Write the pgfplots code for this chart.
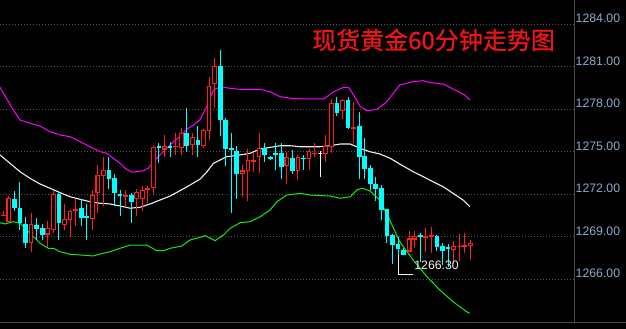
\documentclass[border=0pt]{standalone}
\usepackage{pgfplots}
\usepackage{pgfplotstable}
\pgfplotsset{compat=1.18}
\usepackage{fontspec}
\setmainfont{Liberation Sans}
\newfontfamily\cjk[FakeBold=0.8]{Noto Sans CJK SC}
\definecolor{cred}{RGB}{255,30,30}
\definecolor{ccyan}{RGB}{0,255,255}
\definecolor{cmag}{RGB}{255,0,255}
\definecolor{cgreen}{RGB}{20,235,20}
\definecolor{cwhite}{RGB}{240,240,240}
\definecolor{lblblue}{RGB}{140,170,210}
\definecolor{axgray}{RGB}{75,75,95}
\definecolor{gridgray}{RGB}{85,85,85}
\definecolor{titlered}{RGB}{240,20,20}

\pgfplotstableread{
i O H L C
0 1270.50 1270.82 1270.45 1270.52
1 1270.10 1271.90 1270.05 1271.70
2 1271.60 1272.20 1270.80 1271.10
3 1271.00 1272.90 1269.50 1270.00
4 1269.90 1270.40 1268.20 1268.60
5 1268.60 1270.70 1267.90 1269.90
6 1269.80 1270.30 1268.80 1269.60
7 1269.60 1269.90 1268.80 1269.20
8 1269.20 1270.10 1268.30 1269.60
9 1269.50 1272.20 1269.30 1272.00
10 1272.00 1272.10 1268.80 1270.00
11 1269.90 1271.30 1269.50 1270.20
12 1270.20 1270.90 1269.00 1270.80
13 1270.85 1271.70 1269.80 1270.90
14 1271.00 1271.70 1269.80 1270.40
15 1270.45 1271.30 1268.80 1270.40
16 1270.30 1272.30 1269.50 1271.90
17 1272.10 1274.10 1270.70 1273.30
18 1273.30 1274.60 1271.20 1273.70
19 1273.70 1274.60 1272.40 1273.15
20 1273.10 1273.40 1271.20 1272.10
21 1272.00 1272.30 1270.50 1271.90
22 1271.85 1272.30 1271.10 1271.90
23 1271.90 1272.10 1270.00 1271.50
24 1271.70 1272.40 1270.50 1272.10
25 1271.70 1272.60 1270.80 1272.30
26 1272.35 1272.60 1271.40 1272.40
27 1272.50 1275.50 1272.00 1275.30
28 1275.35 1275.60 1274.20 1275.30
29 1275.20 1276.20 1274.60 1275.40
30 1275.35 1275.70 1274.60 1275.30
31 1275.35 1276.30 1274.80 1275.40
32 1275.30 1276.70 1274.80 1276.30
33 1276.30 1278.10 1275.00 1275.45
34 1275.50 1276.30 1274.80 1276.00
35 1275.80 1276.80 1274.60 1275.50
36 1275.45 1276.60 1275.30 1276.50
37 1276.50 1280.30 1275.80 1279.60
38 1279.80 1281.60 1278.10 1281.00
39 1281.00 1282.20 1276.10 1277.30
40 1277.20 1277.40 1274.00 1275.25
41 1275.25 1276.30 1270.70 1275.20
42 1275.05 1275.40 1271.70 1273.50
43 1273.50 1274.10 1271.80 1273.65
44 1273.70 1275.20 1271.55 1274.40
45 1274.35 1275.00 1273.60 1274.40
46 1274.65 1276.30 1273.50 1275.25
47 1275.20 1275.60 1274.30 1274.80
48 1274.60 1274.70 1274.40 1274.50
49 1274.85 1275.60 1273.70 1274.80
50 1274.85 1275.60 1273.10 1274.00
51 1274.05 1275.00 1272.70 1274.60
52 1274.50 1275.10 1273.40 1273.70
53 1273.70 1274.80 1273.00 1274.60
54 1274.55 1274.80 1273.70 1274.50
55 1274.50 1275.20 1273.70 1275.00
56 1274.85 1275.60 1274.60 1274.90
57 1274.90 1275.05 1273.20 1274.90
58 1274.90 1276.20 1274.30 1275.35
59 1275.35 1278.70 1274.90 1278.40
60 1278.40 1278.90 1277.50 1277.75
61 1277.90 1278.70 1277.30 1278.60
62 1278.60 1278.90 1276.60 1276.70
63 1276.65 1278.50 1275.60 1276.70
64 1276.80 1277.80 1273.10 1274.65
65 1274.70 1276.00 1273.10 1273.85
66 1273.85 1274.10 1272.30 1272.80
67 1272.70 1273.25 1271.50 1272.45
68 1272.40 1272.65 1270.20 1270.90
69 1270.95 1271.00 1268.60 1269.10
70 1269.10 1269.20 1267.10 1268.45
71 1268.45 1269.00 1267.70 1268.20
72 1268.00 1268.20 1267.70 1267.75
73 1268.00 1269.40 1267.90 1268.85
74 1268.85 1269.40 1268.20 1269.00
75 1269.10 1269.25 1267.20 1269.00
76 1268.95 1269.60 1267.90 1269.00
77 1269.05 1269.70 1267.85 1269.10
78 1269.05 1269.10 1268.00 1268.35
79 1268.35 1268.60 1267.00 1268.05
80 1268.25 1268.50 1266.90 1268.15
81 1268.10 1268.70 1267.10 1268.35
82 1268.30 1269.20 1267.30 1268.35
83 1268.30 1269.30 1267.85 1268.40
84 1268.40 1268.80 1267.40 1268.50
}\candles

\pgfplotstableread{
x y
-0.594 1279.55
1.80 1277.95
3.00 1277.25
4.80 1277.01
6.60 1276.82
8.40 1276.42
10.20 1276.19
12.00 1276.07
13.80 1275.72
15.60 1275.36
17.40 1275.01
18.60 1274.90
19.80 1274.54
21.00 1274.19
21.90 1273.84
23.10 1273.56
24.00 1273.60
25.20 1273.67
26.10 1273.84
27.00 1274.30
28.20 1274.78
29.40 1275.25
30.60 1275.72
31.80 1276.07
33.00 1276.59
34.20 1276.89
35.40 1277.28
36.60 1278.19
37.80 1279.36
39.00 1279.60
40.80 1279.48
42.60 1279.41
46.20 1279.41
48.00 1279.24
49.80 1278.89
52.20 1278.75
57.60 1278.73
58.20 1278.89
59.40 1279.24
61.20 1279.55
62.10 1279.55
63.00 1279.01
64.20 1278.19
65.40 1277.90
67.20 1278.00
69.00 1278.54
71.30 1279.72
73.70 1279.95
75.50 1280.02
76.70 1279.88
79.10 1279.79
81.50 1279.31
83.00 1279.01
83.90 1278.66
}\bandup

\pgfplotstableread{
x y
-0.594 1274.78
1.20 1274.19
3.00 1273.60
4.80 1273.13
6.60 1272.73
8.40 1272.43
10.20 1272.12
12.00 1271.83
13.80 1271.65
15.60 1271.48
17.40 1271.37
19.20 1271.32
21.00 1271.18
22.80 1271.02
24.60 1271.09
26.40 1271.32
28.20 1271.60
30.00 1271.88
31.80 1272.26
33.60 1272.66
35.40 1273.08
36.60 1273.58
37.80 1274.19
39.00 1274.42
40.20 1274.66
42.60 1274.78
44.40 1274.90
46.20 1275.20
49.80 1275.43
51.60 1275.43
53.40 1275.36
56.90 1275.36
58.80 1275.43
60.60 1275.55
62.40 1275.55
64.20 1275.25
65.90 1275.01
67.70 1274.85
69.60 1274.54
71.30 1274.14
73.70 1273.60
75.50 1273.25
77.30 1272.89
79.10 1272.54
80.90 1272.07
82.70 1271.60
83.90 1271.13
}\bandmid

\pgfplotstableread{
x y
-0.594 1270.00
0.30 1269.91
1.80 1270.07
3.00 1269.96
4.80 1269.25
6.60 1268.55
8.10 1268.19
9.00 1268.19
10.20 1267.95
12.00 1267.77
13.80 1267.72
16.20 1267.65
17.40 1267.79
19.20 1267.95
21.00 1268.19
22.80 1268.42
25.80 1268.42
27.60 1268.02
28.80 1268.02
30.00 1268.19
32.10 1268.35
33.60 1268.78
35.40 1268.97
36.30 1269.08
38.10 1268.73
39.60 1269.13
40.80 1269.60
42.60 1270.00
44.40 1270.07
46.20 1270.42
48.00 1270.90
49.20 1271.48
51.00 1271.95
53.40 1272.07
55.20 1271.95
58.80 1271.88
60.60 1271.72
62.40 1271.83
63.60 1272.31
64.50 1272.43
65.90 1272.26
67.70 1271.60
69.50 1270.19
71.30 1268.66
73.70 1267.37
76.20 1266.19
78.50 1265.25
80.90 1264.42
83.30 1263.72
83.90 1263.61
}\bandlow

\begin{document}
\begin{tikzpicture}
\fill[black] (0,0) rectangle (626pt,329pt);
\draw[axgray, line width=1pt] (0,6.5pt) -- (626pt,6.5pt);
\begin{axis}[
  at={(0pt,7pt)}, anchor=south west,
  scale only axis, width=574.3pt, height=322pt,
  xmin=-0.594, xmax=102.70, ymin=1262.99, ymax=1285.715,
  axis x line=none,
  axis y line*=right,
  y axis line style={-, draw=axgray, line width=1pt},
  xtick=\empty,
  ytick={1266,1269,1272,1275,1278,1281,1284},
  yticklabels={1266.00,1269.00,1272.00,1275.00,1278.00,1281.00,1284.00},
  major tick length=0pt,
  yticklabel style={anchor=base west, inner sep=0pt, xshift=1.2pt, yshift=1.8pt, text=lblblue, font=\fontsize{12.3}{14}\selectfont},
  ymajorgrids,
  grid style={gridgray, line width=0.8pt, dash pattern=on 1pt off 2pt},
  clip=true,
]
\addplot[cmag, line width=1pt] table[x=x,y=y] {\bandup};
\addplot[cwhite, line width=1.1pt] table[x=x,y=y] {\bandmid};
\addplot[cgreen, line width=1pt] table[x=x,y=y] {\bandlow};

\pgfplotstablegetrowsof{\candles}
\pgfmathtruncatemacro{\nrows}{\pgfplotsretval-1}
\pgfplotsforeachungrouped \k in {0,...,\nrows}{%
  \pgfplotstablegetelem{\k}{i}\of\candles \let\ci\pgfplotsretval
  \pgfplotstablegetelem{\k}{O}\of\candles \let\co\pgfplotsretval
  \pgfplotstablegetelem{\k}{H}\of\candles \let\ch\pgfplotsretval
  \pgfplotstablegetelem{\k}{L}\of\candles \let\cl\pgfplotsretval
  \pgfplotstablegetelem{\k}{C}\of\candles \let\cc\pgfplotsretval
  \pgfmathsetmacro{\xl}{\ci-0.33}%
  \pgfmathsetmacro{\xr}{\ci+0.33}%
  \ifdim\cc pt>\co pt \def\ccol{cred}\def\cfill{black}\else
    \ifdim\cc pt<\co pt \def\ccol{ccyan}\def\cfill{ccyan}\else
      \def\ccol{cwhite}\def\cfill{cwhite}\fi\fi
  \edef\temp{\noexpand\addplot[draw=\ccol, line width=1pt] coordinates {(\ci,\cl) (\ci,\ch)};
    \noexpand\addplot[draw=\ccol, fill=\cfill, line width=1.1pt] coordinates {(\xl,\co) (\xr,\co) (\xr,\cc) (\xl,\cc)} -- cycle;}%
  \temp
}

% lowest-price marker
\addplot[cwhite, line width=1pt] coordinates {(71,1267.74) (71,1266.36) (73.74,1266.36)};
\node[anchor=base west, inner sep=0pt, text=cwhite, font=\fontsize{12.3}{14}\selectfont, yshift=5pt] at (axis cs:73.9,1266.36) {1266.30};
\end{axis}
\node[anchor=west, inner sep=0pt, text=titlered, font=\cjk\fontsize{24}{26}\selectfont] at (312pt,289pt) {现货黄金60分钟走势图};
\pgfresetboundingbox
\useasboundingbox (0,0) rectangle (626pt,329pt);
\end{tikzpicture}
\end{document}
